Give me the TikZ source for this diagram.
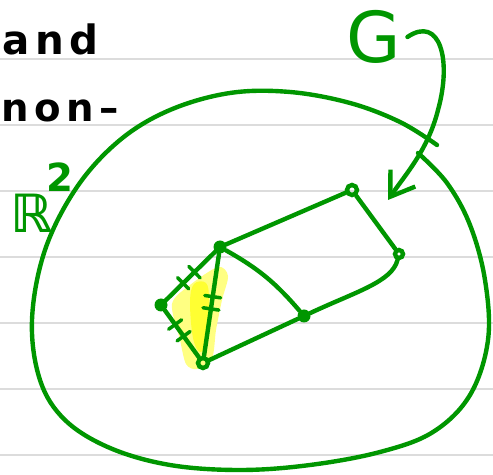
\documentclass[tikz,border=0pt]{standalone}
\usepackage{amsmath,amssymb}
\usepackage{fontspec}
\usepackage{xcolor}
\usetikzlibrary{arrows.meta}
\newfontfamily\handfont[LetterSpace=14]{DejaVu Sans}
\newfontfamily\penfont{DejaVu Sans}
\definecolor{penGreen}{RGB}{0,150,0}
\definecolor{ruleGray}{RGB}{220,220,220}
\definecolor{hiYellow}{RGB}{255,255,130}
\definecolor{hiStripe}{RGB}{255,255,50}

\begin{document}
\begin{tikzpicture}[x=0.02cm,y=-0.02cm,
  pen/.style={draw=penGreen,line width=2.5pt,line cap=round,line join=round},
  dotv/.style={circle,fill=penGreen,inner sep=0pt,minimum size=0.26cm},
  ringv/.style={circle,draw=penGreen,line width=2.5pt,inner sep=0pt,minimum size=0.2cm},
  tickm/.style={draw=penGreen,line width=2pt,sloped,inner sep=0pt,minimum width=0pt,minimum height=0.32cm}]
\useasboundingbox (0,0) rectangle (493,475);
\fill[white] (0,0) rectangle (493,475);
% ruled paper
\foreach \y in {59,125,191,257,323,389,455}
  \draw[ruleGray,line width=1.6pt] (0,\y) -- (493,\y);
% handwriting
\node[anchor=base west,inner sep=0pt,font=\handfont\bfseries\fontsize{23}{23}\selectfont] (txtAnd) at (2,55) {and};
\node[anchor=base west,inner sep=0pt,font=\handfont\bfseries\fontsize{22}{22}\selectfont] (txtNon) at (1,122) {non\textendash};
% highlighted triangle
\fill[hiYellow] plot[smooth cycle,tension=0.5] coordinates {(218,267) (228,276) (222,300) (216,330) (212,358) (197,369) (186,364) (180,340) (172,304) (190,285)};
\fill[hiStripe] plot[smooth cycle,tension=0.6] coordinates {(194,284) (206,283) (209,300) (207,340) (200,352) (193,338) (190,302)};
% the plane
\draw[pen] plot[smooth,tension=0.6] coordinates {(437,145) (400,122) (350,103) (290,92) (230,93) (170,110) (120,140) (77,187) (45,250) (32,320) (40,380) (65,420) (110,448) (170,465) (240,470) (310,465) (380,452) (433,432) (470,395) (488,340) (485,280) (470,225) (447,183) (418,153)};
\node[penGreen,inner sep=0pt,anchor=base west,font=\penfont\bfseries\fontsize{30}{30}\selectfont] (lblR) at (10,233) {ℝ\kern-0.12em\raisebox{0.78em}{\fontsize{22}{22}\selectfont 2}};
% the graph
\node[dotv] (vA) at (161,305) {};
\node[dotv] (vB) at (220,247) {};
\node[ringv] (vC) at (203,363) {};
\node[dotv] (vD) at (304,316) {};
\node[ringv] (vE) at (352,190) {};
\node[ringv,minimum size=0.16cm] (vF) at (399,254) {};
\draw[pen] (vA) -- node[tickm,pos=0.35]{} node[tickm,pos=0.58]{} (vB);
\draw[pen] (vA) -- node[tickm,pos=0.3]{} node[tickm,pos=0.55]{} (vC);
\draw[pen] (vB) -- node[tickm,pos=0.42]{} node[tickm,pos=0.54]{} (vC);
\draw[pen] (vB) -- (vE);
\draw[pen] (vB) to[bend left=10] (vD);
\draw[pen] (vC) -- (vD);
\draw[pen] (vD) .. controls (355,292) and (392,282) .. (vF);
\draw[pen] (vE) -- (vF);
% label G
\node[penGreen,font=\penfont\fontsize{40}{40}\selectfont] (lblG) at (374,37) {G};
\coordinate (gTip) at (388,200);
\draw[pen,-{Straight Barb[length=0.45cm,width=0.6cm]}] (lblG.east) .. controls (440,15) and (452,60) .. (438,110) .. controls (428,150) and (405,175) .. (gTip);
\end{tikzpicture}
\end{document}
